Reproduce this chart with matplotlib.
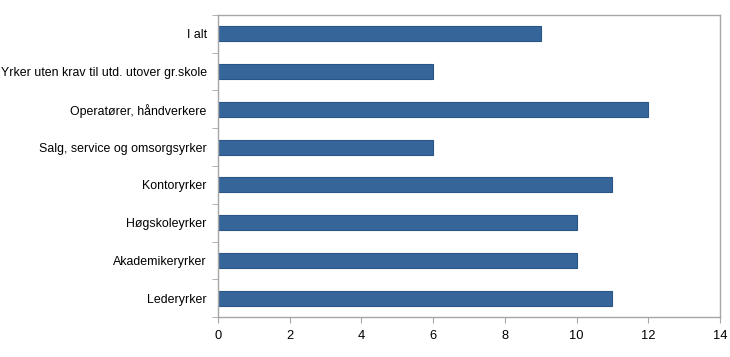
import numpy as np
import matplotlib
matplotlib.use('Agg')
import matplotlib.pyplot as plt

plt.rcParams['font.family'] = ['Liberation Sans', 'DejaVu Sans']

categories = ['I alt',
              'Yrker uten krav til utd. utover gr.skole',
              'Operatører, håndverkere',
              'Salg, service og omsorgsyrker',
              'Kontoryrker',
              'Høgskoleyrker',
              'Akademikeryrker',
              'Lederyrker']
values = [9, 6, 12, 6, 11, 10, 10, 11]
xticks = [0, 2, 4, 6, 8, 10, 12, 14]

fig = plt.figure(figsize=(7.3, 3.57), dpi=100)
ax = fig.add_axes([0.2986, 0.112, 0.6877, 0.846])

pos = np.arange(len(categories))
ax.barh(pos, values, height=0.4, color='#36659a', edgecolor='#2a5587', linewidth=0.8)

ax.set_ylim(len(categories) - 0.5, -0.5)
ax.set_xlim(0, 14)
ax.set_xticks(xticks)
ax.set_yticks(pos)
ax.set_yticklabels(categories)
ax.set_yticks(np.arange(-0.5, len(categories)), minor=True)

gray = '#a6a6a6'
for s in ax.spines.values():
    s.set_color(gray)
    s.set_linewidth(1.0)

ax.tick_params(axis='y', which='major', length=0, pad=8, labelsize=8.9)
ax.tick_params(axis='y', which='minor', length=4, color=gray, direction='out')
ax.tick_params(axis='x', which='major', length=4, color=gray, direction='out', labelsize=9.3, pad=5)

fig.savefig('out.png', dpi=100)
